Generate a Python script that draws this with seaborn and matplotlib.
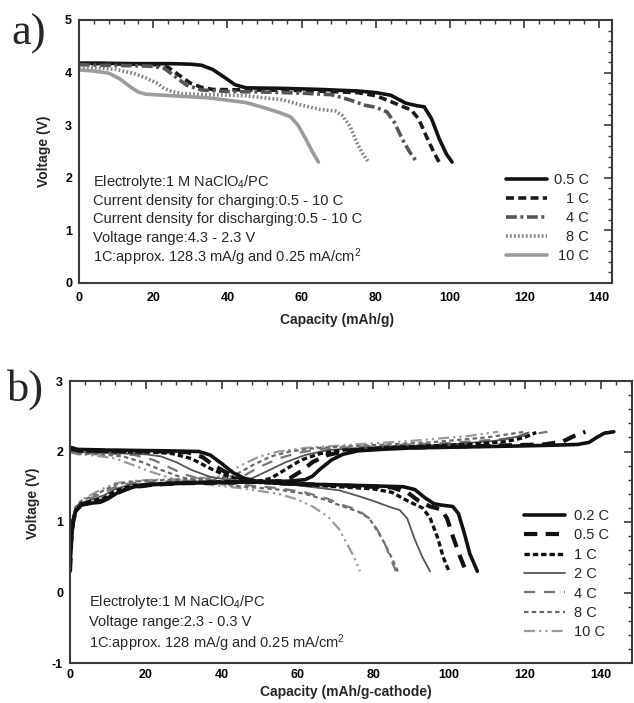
import matplotlib
matplotlib.use("Agg")
import matplotlib.pyplot as plt
import seaborn as sns
import pandas as pd
from matplotlib.ticker import MultipleLocator

# ---------------- data: panel a (discharge curves) ----------------
a_labels = ["0.5 C", "1 C", "4 C", "8 C", "10 C"]
a_05C_x = [0, 5, 15, 25, 30, 33, 36, 39, 42, 45, 55, 65, 75, 80, 84, 88, 91, 93, 95, 97, 99, 100.5]
a_05C_v = [4.18, 4.18, 4.17, 4.17, 4.16, 4.14, 4.06, 3.92, 3.77, 3.71, 3.70, 3.68, 3.65, 3.62, 3.57, 3.42, 3.37, 3.35, 3.12, 2.75, 2.45, 2.30]
a_1C_x = [0, 5, 15, 21, 24, 27, 30, 33, 36, 45, 60, 75, 80, 84, 87, 89.5, 91.5, 93.5, 95.5, 97]
a_1C_v = [4.17, 4.17, 4.16, 4.15, 4.10, 3.95, 3.80, 3.72, 3.68, 3.67, 3.66, 3.62, 3.56, 3.45, 3.36, 3.29, 3.12, 2.80, 2.50, 2.30]
a_4C_x = [0, 5, 15, 20, 23, 26, 29, 33, 40, 50, 60, 68, 73, 77, 80, 83, 85, 87, 89, 91]
a_4C_v = [4.15, 4.14, 4.13, 4.12, 4.08, 3.92, 3.76, 3.67, 3.64, 3.63, 3.61, 3.58, 3.48, 3.38, 3.34, 3.25, 3.05, 2.75, 2.50, 2.30]
a_8C_x = [0, 5, 10, 15, 18, 21, 23, 25, 28, 35, 45, 55, 60, 65, 69, 71, 73, 75, 76.5, 78]
a_8C_v = [4.10, 4.09, 4.06, 3.98, 3.90, 3.80, 3.70, 3.64, 3.60, 3.58, 3.56, 3.48, 3.38, 3.30, 3.27, 3.18, 2.98, 2.65, 2.45, 2.30]
a_10C_x = [0, 4, 8, 11, 14, 16, 18, 25, 35, 45, 50, 54, 57, 59, 61, 63, 64.5]
a_10C_v = [4.05, 4.03, 3.99, 3.88, 3.72, 3.63, 3.59, 3.56, 3.52, 3.43, 3.33, 3.24, 3.16, 3.00, 2.75, 2.48, 2.30]

a_text = ["Electrolyte:1 M NaClO$_4$/PC",
          "Current density for charging:0.5 - 10 C",
          "Current density for discharging:0.5 - 10 C",
          "Voltage range:4.3 - 2.3 V",
          "1C:approx. 128.3 mA/g and 0.25 mA/cm$^2$"]

# ---------------- data: panel b (charge + discharge curves) ----------------
b_labels = ["0.2 C", "0.5 C", "1 C", "2 C", "4 C", "8 C", "10 C"]
# charge curves
b_02C_cx = [0, 0.3, 0.8, 1.5, 3, 6, 8, 10, 13, 17, 22, 30, 40, 50, 58, 62, 64, 66, 69, 72, 76, 82, 90, 100, 110, 120, 128, 134, 137, 139, 141, 143.5]
b_02C_cv = [0.3, 0.7, 1.0, 1.15, 1.24, 1.27, 1.28, 1.33, 1.43, 1.50, 1.53, 1.55, 1.56, 1.57, 1.58, 1.60, 1.65, 1.75, 1.88, 1.96, 2.01, 2.03, 2.05, 2.06, 2.07, 2.08, 2.09, 2.10, 2.13, 2.20, 2.26, 2.28]
b_05C_cx = [0, 0.3, 0.8, 1.5, 3, 6, 9, 12, 16, 22, 30, 40, 50, 56, 58, 61, 64, 68, 73, 85, 110, 125, 130, 133, 136]
b_05C_cv = [0.3, 0.7, 1.0, 1.16, 1.25, 1.28, 1.31, 1.40, 1.49, 1.53, 1.55, 1.56, 1.57, 1.58, 1.62, 1.72, 1.85, 1.95, 2.01, 2.05, 2.08, 2.10, 2.14, 2.22, 2.28]
b_1C_cx = [0, 0.3, 0.8, 1.5, 3, 6, 9, 12, 16, 22, 30, 40, 50, 53, 57, 61, 66, 72, 85, 105, 115, 120, 123]
b_1C_cv = [0.3, 0.75, 1.02, 1.17, 1.26, 1.30, 1.34, 1.44, 1.51, 1.54, 1.56, 1.57, 1.58, 1.62, 1.75, 1.88, 1.97, 2.02, 2.06, 2.10, 2.14, 2.20, 2.27]
b_2C_cx = [0, 0.3, 0.8, 1.5, 3, 6, 9, 12, 16, 22, 30, 40, 46, 48, 52, 57, 62, 68, 80, 100, 112, 118, 121]
b_2C_cv = [0.3, 0.75, 1.03, 1.18, 1.27, 1.32, 1.38, 1.47, 1.53, 1.55, 1.57, 1.58, 1.59, 1.62, 1.72, 1.85, 1.95, 2.02, 2.06, 2.10, 2.15, 2.21, 2.27]
b_4C_cx = [0, 0.3, 0.8, 1.5, 3, 6, 9, 12, 16, 22, 30, 40, 45, 50, 55, 60, 67, 80, 100, 115, 126]
b_4C_cv = [0.3, 0.8, 1.05, 1.2, 1.29, 1.35, 1.42, 1.50, 1.55, 1.57, 1.58, 1.60, 1.63, 1.78, 1.90, 1.98, 2.04, 2.08, 2.12, 2.18, 2.28]
b_8C_cx = [0, 0.3, 0.8, 1.5, 3, 6, 9, 12, 16, 22, 30, 38, 43, 48, 53, 58, 65, 80, 95, 110, 120]
b_8C_cv = [0.3, 0.8, 1.06, 1.21, 1.30, 1.37, 1.45, 1.53, 1.57, 1.59, 1.60, 1.62, 1.65, 1.80, 1.93, 2.00, 2.05, 2.09, 2.13, 2.20, 2.28]
b_10C_cx = [0, 0.3, 0.8, 1.5, 3, 6, 9, 12, 16, 22, 30, 36, 40, 45, 50, 55, 62, 75, 90, 105, 113]
b_10C_cv = [0.3, 0.85, 1.08, 1.22, 1.31, 1.40, 1.48, 1.55, 1.58, 1.60, 1.61, 1.63, 1.65, 1.80, 1.93, 2.00, 2.05, 2.10, 2.15, 2.22, 2.28]
# discharge curves
b_02C_dx = [0, 2, 10, 25, 34, 37, 40, 43, 46, 50, 60, 75, 88, 91, 93.5, 96, 98, 101, 102.5, 104, 105.5, 107.5]
b_02C_dv = [2.06, 2.03, 2.02, 2.01, 2.00, 1.95, 1.83, 1.70, 1.62, 1.57, 1.54, 1.52, 1.50, 1.46, 1.35, 1.26, 1.24, 1.22, 1.12, 0.85, 0.55, 0.30]
b_05C_dx = [0, 2, 10, 25, 31, 35, 38, 42, 46, 55, 70, 85, 89, 92, 95, 98, 99.5, 101, 103, 104.5]
b_05C_dv = [2.05, 2.02, 2.01, 2.00, 1.99, 1.92, 1.80, 1.68, 1.60, 1.55, 1.52, 1.49, 1.42, 1.30, 1.22, 1.18, 1.05, 0.80, 0.50, 0.30]
b_1C_dx = [0, 2, 10, 22, 27, 32, 37, 42, 50, 65, 80, 85, 88, 91, 93, 95, 97, 98.5, 100]
b_1C_dv = [2.04, 2.01, 2.00, 1.99, 1.97, 1.90, 1.76, 1.64, 1.56, 1.52, 1.47, 1.42, 1.33, 1.25, 1.20, 1.06, 0.78, 0.50, 0.30]
b_2C_dx = [0, 2, 10, 20, 24, 28, 32, 37, 45, 60, 71, 76, 80, 84, 87, 89, 91, 93, 95]
b_2C_dv = [2.02, 1.99, 1.98, 1.96, 1.93, 1.85, 1.74, 1.64, 1.57, 1.52, 1.45, 1.37, 1.30, 1.22, 1.17, 1.05, 0.75, 0.50, 0.30]
b_4C_dx = [0, 2, 10, 17, 22, 26, 30, 35, 43, 55, 62, 68, 72, 76, 79, 81, 83, 84.5, 86]
b_4C_dv = [2.01, 1.98, 1.97, 1.95, 1.88, 1.78, 1.68, 1.60, 1.54, 1.48, 1.42, 1.33, 1.24, 1.17, 1.05, 0.90, 0.70, 0.50, 0.30]
b_8C_dx = [0, 2, 8, 14, 19, 24, 29, 35, 44, 55, 62, 67, 72, 76, 79, 81, 83, 85, 86.5]
b_8C_dv = [2.00, 1.97, 1.96, 1.93, 1.85, 1.74, 1.64, 1.57, 1.51, 1.46, 1.40, 1.32, 1.22, 1.15, 1.05, 0.88, 0.70, 0.48, 0.30]
b_10C_dx = [0, 2, 7, 12, 17, 22, 28, 35, 45, 55, 60, 64, 68, 71, 73, 75, 76.5]
b_10C_dv = [1.99, 1.96, 1.94, 1.90, 1.80, 1.70, 1.60, 1.54, 1.48, 1.40, 1.32, 1.22, 1.08, 0.90, 0.70, 0.50, 0.30]

b_text = ["Electrolyte:1 M NaClO$_4$/PC",
          "Voltage range:2.3 - 0.3 V",
          "1C:approx. 128 mA/g and 0.25 mA/cm$^2$"]

# ---------------- styling ----------------
sns.set_theme(style="white")
plt.rcParams["font.family"] = ["Liberation Sans", "DejaVu Sans"]
plt.rcParams["mathtext.default"] = "regular"
plt.rcParams["axes.unicode_minus"] = False

FRAME = "#3a3a3a"
W, H = 634, 703
fig = plt.figure(figsize=(W / 100, H / 100), dpi=100)
fig.patch.set_facecolor("white")

def px_axes(l, t, r, b):
    return fig.add_axes([l / W, 1 - b / H, (r - l) / W, (b - t) / H])

ax1 = px_axes(79, 20, 612, 283)
ax2 = px_axes(70, 381, 632, 663)

a_series = [
    (a_05C_x, a_05C_v, dict(color="#111111", lw=2.6, ls="-")),
    (a_1C_x, a_1C_v, dict(color="#1a1a1a", lw=2.6, ls=(0, (2.2, 1.2)))),
    (a_4C_x, a_4C_v, dict(color="#555555", lw=2.6, ls=(0, (3.0, 1.0, 0.8, 1.0)))),
    (a_8C_x, a_8C_v, dict(color="#858585", lw=2.6, ls=(0, (0.5, 0.6)))),
    (a_10C_x, a_10C_v, dict(color="#9c9c9c", lw=2.6, ls="-")),
]
for lab, (xs, vs, st) in zip(a_labels, a_series):
    df = pd.DataFrame({"x": xs, "v": vs})
    sns.lineplot(data=df, x="x", y="v", ax=ax1, sort=False, estimator=None,
                 color=st["color"], linewidth=st["lw"], linestyle=st["ls"], label=lab)

b_styles = [
    dict(color="#111111", lw=2.6, ls="-"),
    dict(color="#111111", lw=3.0, ls=(0, (3.2, 2.0))),
    dict(color="#111111", lw=2.4, ls=(0, (1.6, 0.9))),
    dict(color="#555555", lw=1.3, ls="-"),
    dict(color="#777777", lw=1.6, ls=(0, (5.0, 4.0))),
    dict(color="#6a6a6a", lw=1.6, ls=(0, (2.0, 1.5))),
    dict(color="#9a9a9a", lw=1.6, ls=(0, (5.0, 1.8, 1.0, 1.8, 1.0, 1.8))),
]
b_charge = [(b_02C_cx, b_02C_cv), (b_05C_cx, b_05C_cv), (b_1C_cx, b_1C_cv), (b_2C_cx, b_2C_cv),
            (b_4C_cx, b_4C_cv), (b_8C_cx, b_8C_cv), (b_10C_cx, b_10C_cv)]
b_dis = [(b_02C_dx, b_02C_dv), (b_05C_dx, b_05C_dv), (b_1C_dx, b_1C_dv), (b_2C_dx, b_2C_dv),
         (b_4C_dx, b_4C_dv), (b_8C_dx, b_8C_dv), (b_10C_dx, b_10C_dv)]
# draw light (high rate) first so dark curves sit on top
for i in reversed(range(len(b_labels))):
    st = b_styles[i]
    for j, (xs, vs) in enumerate([b_charge[i], b_dis[i]]):
        df = pd.DataFrame({"x": xs, "v": vs})
        sns.lineplot(data=df, x="x", y="v", ax=ax2, sort=False, estimator=None,
                     color=st["color"], linewidth=st["lw"], linestyle=st["ls"],
                     label=b_labels[i] if j == 0 else "_nolegend_")

for ax, xl, yl, pad in [(ax1, (0, 143.6), (0, 5), 6.5), (ax2, (0, 148.3), (-1, 3), 4.5)]:
    ax.set_xlim(*xl)
    ax.set_ylim(*yl)
    ax.xaxis.set_major_locator(MultipleLocator(20))
    ax.xaxis.set_minor_locator(MultipleLocator(4))
    ax.yaxis.set_major_locator(MultipleLocator(1))
    ax.yaxis.set_minor_locator(MultipleLocator(0.2))
    ax.tick_params(which="both", direction="in", top=True, right=True, colors=FRAME)
    ax.tick_params(which="major", length=6, width=1.2, labelsize=9, labelcolor="black")
    ax.tick_params(axis="x", which="major", pad=pad)
    ax.tick_params(axis="y", which="major", pad=5)
    ax.tick_params(which="minor", length=3, width=1.0)
    for t in ax.get_xticklabels() + ax.get_yticklabels():
        t.set_fontweight("bold")
    for s in ax.spines.values():
        s.set_color(FRAME)
        s.set_linewidth(1.5)
    ax.set_facecolor("white")

ax1.set_xlabel("Capacity (mAh/g)", fontsize=10, fontweight="bold")
ax1.set_ylabel("Voltage (V)", fontsize=10, fontweight="bold", va="center")
ax1.xaxis.set_label_coords(0.484, -0.115)
ax1.yaxis.set_label_coords(-0.066, 0.5)
ax2.set_xlabel("Capacity (mAh/g-cathode)", fontsize=10, fontweight="bold")
ax2.set_ylabel("Voltage (V)", fontsize=10, fontweight="bold", va="center")
ax2.xaxis.set_label_coords(0.49, -0.078)
ax2.yaxis.set_label_coords(-0.066, 0.567)

for k, line in enumerate(a_text):
    y = (283 - [182, 201, 219, 238, 257][k]) / 263
    ax1.text(0.026, y, line, transform=ax1.transAxes, fontsize=10.5, va="center", ha="left")
for k, line in enumerate(b_text):
    y = (663 - [602, 622, 643][k]) / 282
    ax2.text(0.033, y, line, transform=ax2.transAxes, fontsize=10.5, va="center", ha="left")

fig.text(29 / W, 1 - 34 / H, "a)", family="Liberation Serif", fontsize=32, ha="center", va="center")
fig.text(26 / W, 1 - 390 / H, "b)", family="Liberation Serif", fontsize=32, ha="center", va="center")

# legends
h1, l1 = ax1.get_legend_handles_labels()
leg1 = ax1.legend(h1, l1, loc="upper left", bbox_to_anchor=(506 / W, 1 - 173 / H),
                  bbox_transform=fig.transFigure, frameon=False, fontsize=10.5,
                  handlelength=2.8, handletextpad=0.5, labelspacing=0.34,
                  borderpad=0, borderaxespad=0)
h2, l2 = ax2.get_legend_handles_labels()
order = [l2.index(l) for l in b_labels]
leg2 = ax2.legend([h2[i] for i in order], [l2[i] for i in order], loc="upper left",
                  bbox_to_anchor=(524 / W, 1 - 509 / H), bbox_transform=fig.transFigure,
                  frameon=False, fontsize=10.5, handlelength=2.8, handletextpad=0.6,
                  labelspacing=0.37, borderpad=0, borderaxespad=0)

# right-align panel a legend labels (shift each label by its width deficit)
fig.canvas.draw()
r = fig.canvas.get_renderer()
widths = [t.get_window_extent(r).width for t in leg1.get_texts()]
wmax = max(widths)
for t, w in zip(leg1.get_texts(), widths):
    t.set_position((wmax - w, 0))

fig.savefig("out.png", dpi=100, facecolor="white")
